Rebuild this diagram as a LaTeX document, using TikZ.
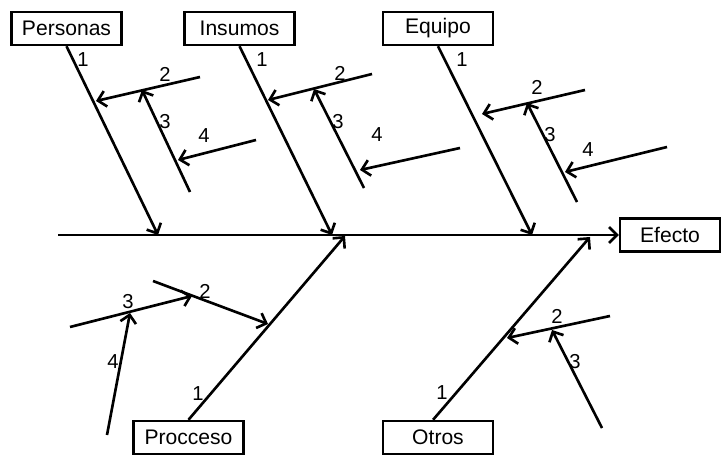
\documentclass[tikz,border=0pt]{standalone}
\usepackage{fontspec}
\setmainfont{Liberation Sans}
\usetikzlibrary{arrows.meta}

\tikzset{
  causa/.style={draw, line width=1.4pt, minimum width=2.2cm, minimum height=0.66cm,
    inner sep=0pt, font=\fontsize{12}{14}\selectfont},
  hueso/.style={line width=1.5pt, -{Straight Barb[length=4.5pt,width=9pt]}},
  num/.style={font=\fontsize{11.5}{13}\selectfont, inner sep=0pt},
}

\begin{document}
\begin{tikzpicture}[x=0.02cm, y=-0.02cm]
    \useasboundingbox (0,0) rectangle (722,455);

    % categorias y efecto
    \node[causa] (personas) at (66.5,28.5) {Personas};
    \node[causa] (insumos) at (239.5,28.5) {Insumos};
    \node[causa] (equipo) at (438,28.5) {Equipo};
    \node[causa] (procceso) at (188.5,437.5) {Procceso};
    \node[causa] (otros) at (438,437.5) {Otros};
    \node[causa, minimum width=2cm] (efecto) at (670,235) {Efecto};

    % espina
    \coordinate (cola) at (58,235);
    \draw[hueso] (cola) -- (efecto.west);

    % Personas
    \coordinate (pe0) at (158,235);
    \coordinate (pe2a) at (200,77);  \coordinate (pe2b) at (96,101);
    \coordinate (pe3a) at (190,192); \coordinate (pe3b) at (142,90);
    \coordinate (pe4a) at (256,140); \coordinate (pe4b) at (178,160);
    \draw[hueso] (personas.south) -- (pe0);
    \draw[hueso] (pe2a) -- (pe2b);
    \draw[hueso] (pe3a) -- (pe3b);
    \draw[hueso] (pe4a) -- (pe4b);
    \node[num] (pe1n) at (83,60) {1};
    \node[num] (pe2n) at (165,74) {2};
    \node[num] (pe3n) at (165,122) {3};
    \node[num] (pe4n) at (204,136) {4};

    % Insumos
    \coordinate (in0) at (332,235);
    \coordinate (in2a) at (372,74);  \coordinate (in2b) at (268,100);
    \coordinate (in3a) at (364,188); \coordinate (in3b) at (314,89);
    \coordinate (in4a) at (460,148); \coordinate (in4b) at (360,170);
    \draw[hueso] (insumos.south) -- (in0);
    \draw[hueso] (in2a) -- (in2b);
    \draw[hueso] (in3a) -- (in3b);
    \draw[hueso] (in4a) -- (in4b);
    \node[num] (in1n) at (262,60) {1};
    \node[num] (in2n) at (340,73) {2};
    \node[num] (in3n) at (338,122) {3};
    \node[num] (in4n) at (377,135) {4};

    % Equipo
    \coordinate (eq0) at (532,235);
    \coordinate (eq2a) at (585,90);  \coordinate (eq2b) at (482,114);
    \coordinate (eq3a) at (577,202); \coordinate (eq3b) at (527,103);
    \coordinate (eq4a) at (667,147); \coordinate (eq4b) at (565,172);
    \draw[hueso] (equipo.south) -- (eq0);
    \draw[hueso] (eq2a) -- (eq2b);
    \draw[hueso] (eq3a) -- (eq3b);
    \draw[hueso] (eq4a) -- (eq4b);
    \node[num] (eq1n) at (462,60) {1};
    \node[num] (eq2n) at (537,87) {2};
    \node[num] (eq3n) at (550,135) {3};
    \node[num] (eq4n) at (588,150) {4};

    % Procceso
    \coordinate (pr0) at (345,236);
    \coordinate (pr2a) at (153,281); \coordinate (pr2b) at (268,324);
    \coordinate (pr3a) at (70,327);  \coordinate (pr3b) at (192,296);
    \coordinate (pr4a) at (107,435); \coordinate (pr4b) at (130,313);
    \draw[hueso] (procceso.north) -- (pr0);
    \draw[hueso] (pr2a) -- (pr2b);
    \draw[hueso] (pr3a) -- (pr3b);
    \draw[hueso] (pr4a) -- (pr4b);
    \node[num] (pr1n) at (198,394) {1};
    \node[num] (pr2n) at (205,291) {2};
    \node[num] (pr3n) at (128,302) {3};
    \node[num] (pr4n) at (113,362) {4};

    % Otros
    \coordinate (ot0) at (590,237);
    \coordinate (ot2a) at (610,316); \coordinate (ot2b) at (507,338);
    \coordinate (ot3a) at (602,428); \coordinate (ot3b) at (552,330);
    \draw[hueso] ([xshift=-2.8pt]otros.north) -- (ot0);
    \draw[hueso] (ot2a) -- (ot2b);
    \draw[hueso] (ot3a) -- (ot3b);
    \node[num] (ot1n) at (442,393) {1};
    \node[num] (ot2n) at (557,316) {2};
    \node[num] (ot3n) at (575,362) {3};
  \end{tikzpicture}
\end{document}
